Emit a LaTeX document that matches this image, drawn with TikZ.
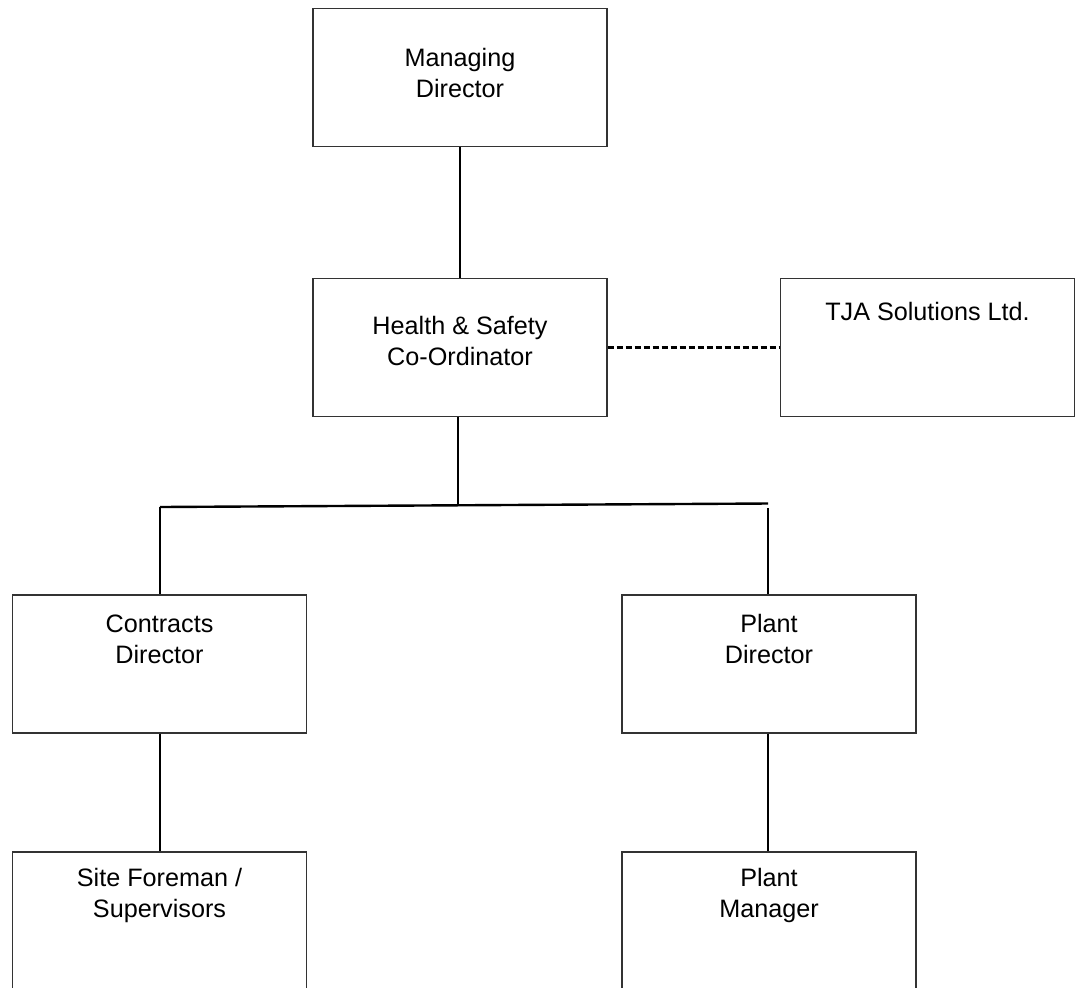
\documentclass[tikz,border=0pt]{standalone}
\usepackage{fontspec}
\setmainfont{Liberation Sans}
\usetikzlibrary{positioning}

\begin{document}
\begin{tikzpicture}[x=0.5pt,y=-0.5pt,
	orgbox/.style={draw=black!80,line width=0.6pt,minimum width=147pt,minimum height=69pt,inner sep=0pt},
	boxtext/.style={align=center,inner sep=0pt,font=\fontsize{12.6}{15.5}\selectfont},
	link/.style={line width=1.2pt,black},
	dotlink/.style={link,dash pattern=on 3pt off 1.5pt}]

\useasboundingbox (0,0) rectangle (1082,987);

% 方框
\node[orgbox] (md) at (460,77.5) {};
\node[orgbox] (hs) at (460,347.5) {};
\node[orgbox] (tja) at (927.5,347.5) {};
\node[orgbox] (cd) at (159.5,664) {};
\node[orgbox] (pd) at (769,664) {};
\node[orgbox] (sf) at (159.5,921) {};
\node[orgbox] (pm) at (769,921) {};

% 文字
\node[boxtext] (md-t) at ([yshift=-32.75pt]md.north) {Managing\\Director};
\node[boxtext] (hs-t) at ([yshift=-31.5pt]hs.north) {Health \& Safety\\Co-Ordinator};
\node[boxtext] (tja-t) at ([yshift=-17pt]tja.north) {TJA Solutions Ltd.};
\node[boxtext] (cd-t) at ([yshift=-22.25pt]cd.north) {Contracts\\Director};
\node[boxtext] (pd-t) at ([yshift=-22.25pt]pd.north) {Plant\\Director};
\node[boxtext] (sf-t) at ([yshift=-22.25pt]sf.north) {Site Foreman /\\Supervisors};
\node[boxtext] (pm-t) at ([yshift=-22.25pt]pm.north) {Plant\\Manager};

% 连线
\coordinate (bus-m) at (458,504);
\coordinate (bus-l) at (160,507);
\coordinate (bus-r) at (768,503.5);
\coordinate (bus-r2) at (768,508);

\draw[link] (md.south) -- (hs.north);
\draw[dotlink] (hs.east) -- (tja.west);
\draw[link] (bus-m |- hs.south) -- (bus-m);
\draw[link] (bus-l) -- (bus-r);
\draw[link] (bus-l) -- (bus-l |- cd.north);
\draw[link] (bus-r2) -- (bus-r2 |- pd.north);
\draw[link] (cd.south -| bus-l) -- (sf.north -| bus-l);
\draw[link] (pd.south -| bus-r2) -- (pm.north -| bus-r2);

\end{tikzpicture}
\end{document}
